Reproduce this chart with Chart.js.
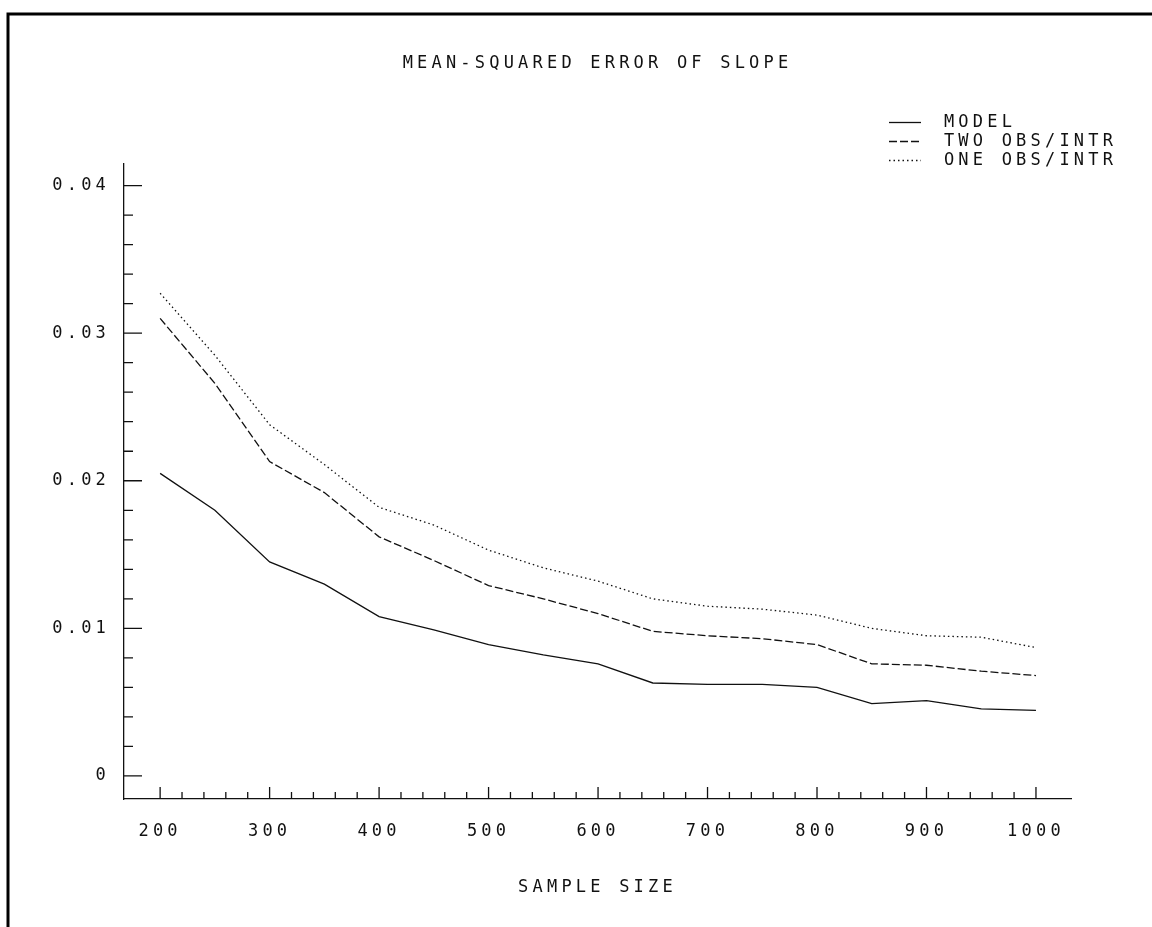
<!DOCTYPE html>
<html>
<head>
<meta charset="utf-8">
<script src="https://cdn.jsdelivr.net/npm/chart.js@4.4.1/dist/chart.umd.min.js"></script>
<style>
  html, body { margin: 0; padding: 0; background: #fff; }
  canvas { display: block; }
</style>
</head>
<body>
<canvas id="chart-mse" width="1152" height="927"></canvas>
<script>
/* Values */
var sampleSizes = [200, 250, 300, 350, 400, 450, 500, 550, 600, 650, 700, 750, 800, 850, 900, 950, 1000];
var modelMse  = [0.0205, 0.0180, 0.0145, 0.0130, 0.0108, 0.0099, 0.0089, 0.0082, 0.0076, 0.0063, 0.0062, 0.0062, 0.0060, 0.0049, 0.0051, 0.00455, 0.00445];
var twoObsMse = [0.0310, 0.0266, 0.0213, 0.0192, 0.0162, 0.0146, 0.0129, 0.0120, 0.0110, 0.0098, 0.0095, 0.0093, 0.0089, 0.0076, 0.0075, 0.0071, 0.0068];
var oneObsMse = [0.0327, 0.0285, 0.0238, 0.0211, 0.0182, 0.0170, 0.0153, 0.0141, 0.0132, 0.0120, 0.0115, 0.0113, 0.0109, 0.0100, 0.0095, 0.0094, 0.0087];
var seriesNames = ['MODEL', 'TWO OBS/INTR', 'ONE OBS/INTR'];

/* Axis ticks */
var xTickValues = [200, 300, 400, 500, 600, 700, 800, 900, 1000];
var yTickValues = [0, 0.01, 0.02, 0.03, 0.04];
var yTickLabels = ['0', '0.01', '0.02', '0.03', '0.04'];

var INK = '#111';
var FONT = { family: "'DejaVu Sans Mono', monospace", size: 17, weight: 'normal' };

function toPoints(values) {
  return values.map(function(v, i) { return { x: sampleSizes[i], y: v }; });
}

/* Wide plotter-style lettering */
var spacingPlugin = {
  id: 'spacing',
  beforeUpdate: function(chart) { chart.ctx.letterSpacing = '4.2px'; },
  beforeDraw: function(chart) { chart.ctx.letterSpacing = '4.2px'; }
};

/* White page with the heavy frame on top and left */
var framePlugin = {
  id: 'frame',
  beforeDraw: function(chart) {
    var ctx = chart.ctx;
    ctx.save();
    ctx.fillStyle = '#fff';
    ctx.fillRect(0, 0, chart.width, chart.height);
    ctx.strokeStyle = '#000';
    ctx.lineWidth = 3;
    ctx.beginPath();
    ctx.moveTo(8, chart.height);
    ctx.lineTo(8, 14);
    ctx.lineTo(chart.width, 14);
    ctx.stroke();
    ctx.restore();
  }
};

/* Inward tick marks, major and minor */
var axisTicksPlugin = {
  id: 'axisTicks',
  afterDraw: function(chart) {
    var ctx = chart.ctx, xs = chart.scales.x, ys = chart.scales.y;
    var i, p, len;
    ctx.save();
    ctx.strokeStyle = INK;
    ctx.lineWidth = 1.3;
    ctx.beginPath();
    for (i = 0; i <= 20; i++) {
      p = ys.getPixelForValue(i * 0.002);
      len = i % 5 === 0 ? 18 : 9;
      ctx.moveTo(xs.left, p);
      ctx.lineTo(xs.left + len, p);
    }
    for (i = 0; i <= 40; i++) {
      p = xs.getPixelForValue(200 + i * 20);
      len = i % 5 === 0 ? 12 : 7;
      ctx.moveTo(p, ys.bottom);
      ctx.lineTo(p, ys.bottom - len);
    }
    ctx.stroke();
    ctx.restore();
  }
};

/* Put the legend block in the top right corner */
var legendPlacePlugin = {
  id: 'legendPlace',
  afterLayout: function(chart) {
    var lg = chart.legend;
    if (!lg) return;
    lg.left = 887;
    lg.top = 112;
    lg.right = 1150;
    lg.bottom = 320;
    lg.width = lg.right - lg.left;
    lg.height = lg.bottom - lg.top;
  }
};

new Chart(document.getElementById('chart-mse'), {
  type: 'line',
  data: {
    datasets: [
      {
        label: seriesNames[0],
        data: toPoints(modelMse),
        borderColor: INK,
        borderWidth: 1.3,
        borderDash: [],
        pointRadius: 0,
        tension: 0
      },
      {
        label: seriesNames[1],
        data: toPoints(twoObsMse),
        borderColor: INK,
        borderWidth: 1.3,
        borderDash: [8, 3],
        pointRadius: 0,
        tension: 0
      },
      {
        label: seriesNames[2],
        data: toPoints(oneObsMse),
        borderColor: INK,
        borderWidth: 1.3,
        borderDash: [1.5, 3],
        pointRadius: 0,
        tension: 0
      }
    ]
  },
  options: {
    responsive: false,
    animation: false,
    devicePixelRatio: 1,
    color: INK,
    layout: { padding: { left: 0, right: 81, top: 0, bottom: 28 } },
    plugins: {
      title: {
        display: true,
        text: 'MEAN-SQUARED ERROR OF SLOPE',
        fullSize: false,
        color: INK,
        font: FONT,
        padding: { top: 53, bottom: 90 }
      },
      legend: {
        position: 'chartArea',
        align: 'start',
        labels: {
          usePointStyle: true,
          pointStyle: 'line',
          pointStyleWidth: 32,
          padding: 2,
          color: INK,
          font: FONT,
          generateLabels: function(chart) {
            var items = Chart.defaults.plugins.legend.labels.generateLabels(chart);
            items.forEach(function(it) {
              var ds = chart.data.datasets[it.datasetIndex];
              it.text = ' ' + it.text;
              it.lineDash = ds.borderDash;
              it.lineWidth = ds.borderWidth;
              it.strokeStyle = ds.borderColor;
            });
            return items;
          }
        }
      },
      tooltip: { enabled: false }
    },
    scales: {
      x: {
        type: 'linear',
        bounds: 'data',
        min: 167,
        max: 1032,
        grid: { display: false, drawTicks: false },
        border: { display: true, color: INK, width: 1.3 },
        afterBuildTicks: function(scale) {
          scale.ticks = xTickValues.map(function(v) { return { value: v }; });
        },
        afterFit: function(scale) { scale.height = 100; },
        ticks: {
          padding: 22,
          autoSkip: false,
          maxRotation: 0,
          color: INK,
          font: FONT,
          callback: function(v) { return String(v); }
        },
        title: {
          display: true,
          text: 'SAMPLE SIZE',
          color: INK,
          font: FONT,
          padding: { top: 0, bottom: 1 }
        }
      },
      y: {
        type: 'linear',
        bounds: 'data',
        min: -0.00156,
        max: 0.0415,
        grid: { display: false, drawTicks: false },
        border: { display: true, color: INK, width: 1.3 },
        afterBuildTicks: function(scale) {
          scale.ticks = yTickValues.map(function(v) { return { value: v }; });
        },
        afterFit: function(scale) { scale.width = 124; },
        ticks: {
          padding: 14,
          autoSkip: false,
          color: INK,
          font: FONT,
          callback: function(v, i) { return yTickLabels[i]; }
        }
      }
    }
  },
  plugins: [spacingPlugin, framePlugin, axisTicksPlugin, legendPlacePlugin]
});
</script>
</body>
</html>
